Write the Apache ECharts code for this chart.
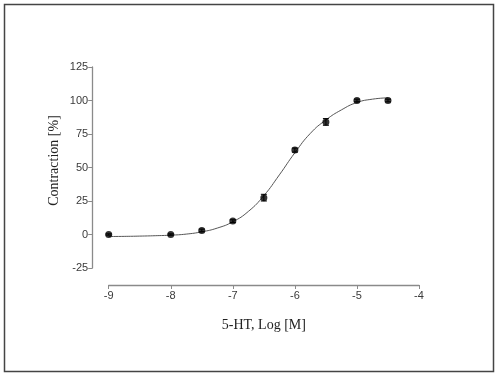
<!DOCTYPE html>
<html><head><meta charset="utf-8">
<script src="https://cdn.jsdelivr.net/npm/echarts@6/dist/echarts.min.js"></script>
<style>html,body{margin:0;padding:0;background:#fff}#c{width:500px;height:378px}</style>
</head><body><div id="c"></div>
<script>
// Measured data points (log concentration, % contraction, SEM)
const logConc = [-9, -8, -7.5, -7, -6.5, -6, -5.5, -5, -4.5];
const contraction = [0, 0, 3, 10, 27.5, 63, 84, 100, 100];
const sem = [0.5, 0.5, 1, 1, 2.5, 1.5, 2.5, 1, 1];
// Fitted curve
const curveX = [-9, -8.75, -8.5, -8.25, -8, -7.75, -7.5, -7.25, -7, -6.75, -6.5, -6.25, -6, -5.75, -5.5, -5.25, -5, -4.75, -4.5];
const curveY = [-1.5, -1.4, -1.2, -0.9, -0.5, 0.3, 2, 4.8, 9.5, 17.2, 29, 44.5, 61, 75.5, 85.5, 93, 98.5, 101, 102];
const xTicks = [-9, -8, -7, -6, -5, -4];
const yTicks = [-25, 0, 25, 50, 75, 100, 125];

const chart = echarts.init(document.getElementById('c'), null, {renderer: 'canvas'});
const axisGray = '#8a8a8a';
const labelCol = '#3a3a3a';
chart.setOption({
  animation: false,
  backgroundColor: '#fff',
  grid: {left: 108.7, right: 81, top: 67, bottom: 110, containLabel: false},
  xAxis: {
    type: 'value', min: xTicks[0], max: xTicks[xTicks.length - 1], interval: 1,
    offset: 17,
    splitLine: {show: false},
    axisLine: {show: true, onZero: false, lineStyle: {color: axisGray, width: 1.3}},
    axisTick: {show: true, length: 4, lineStyle: {color: axisGray, width: 1}},
    axisLabel: {color: labelCol, fontFamily: 'Liberation Sans', fontSize: 11, margin: 5},
    name: '5-HT, Log [M]', nameLocation: 'middle', nameGap: 33,
    nameTextStyle: {color: '#222', fontFamily: 'Liberation Serif', fontSize: 14}
  },
  yAxis: {
    type: 'value', min: yTicks[0], max: yTicks[yTicks.length - 1], interval: 25,
    offset: 16.5,
    splitLine: {show: false},
    axisLine: {show: true, onZero: false, lineStyle: {color: axisGray, width: 1.3}},
    axisTick: {show: true, length: 4, lineStyle: {color: axisGray, width: 1}},
    axisLabel: {color: labelCol, fontFamily: 'Liberation Sans', fontSize: 11, margin: 4}
  },
  graphic: [
    {type: 'rect', shape: {x: 4.5, y: 4.5, width: 489, height: 367}, style: {fill: 'none', stroke: '#444', lineWidth: 1.5}, silent: true},
    {type: 'text', x: 54, y: 160.5, rotation: Math.PI / 2,
     style: {text: 'Contraction [%]', fill: '#222', font: '14px "Liberation Serif"', textAlign: 'center', textVerticalAlign: 'middle'}}
  ],
  series: [
    {
      type: 'line', data: curveX.map((x, i) => [x, curveY[i]]), smooth: true,
      symbol: 'none', lineStyle: {color: '#555', width: 1}, z: 2
    },
    {
      type: 'custom', z: 3,
      data: logConc.map((x, i) => [x, contraction[i], sem[i]]),
      renderItem: function (params, api) {
        const x = api.value(0), y = api.value(1), e = api.value(2);
        const p1 = api.coord([x, y + e]);
        const p2 = api.coord([x, y - e]);
        const w = 3;
        const st = {stroke: '#000', lineWidth: 1};
        return {type: 'group', children: [
          {type: 'line', shape: {x1: p1[0], y1: p1[1], x2: p2[0], y2: p2[1]}, style: st},
          {type: 'line', shape: {x1: p1[0] - w, y1: p1[1], x2: p1[0] + w, y2: p1[1]}, style: st},
          {type: 'line', shape: {x1: p2[0] - w, y1: p2[1], x2: p2[0] + w, y2: p2[1]}, style: st}
        ]};
      }
    },
    {
      type: 'scatter', data: logConc.map((x, i) => [x, contraction[i]]),
      symbol: 'circle', symbolSize: 7, itemStyle: {color: '#000'}, z: 4
    }
  ]
});
</script></body></html>
